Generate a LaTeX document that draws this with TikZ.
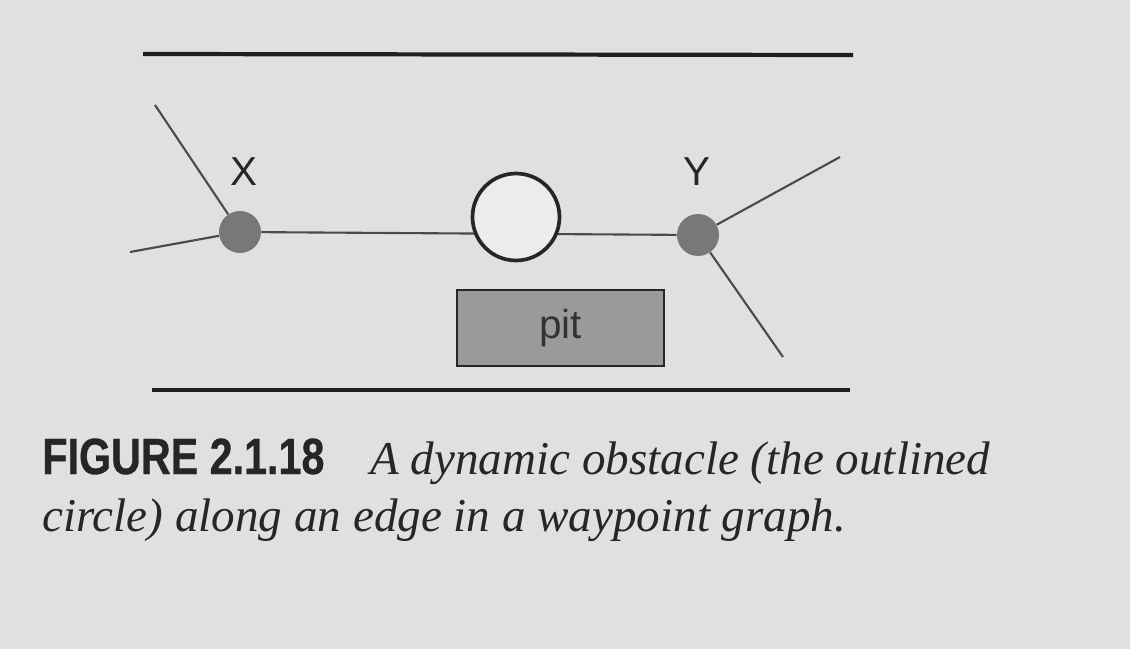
\documentclass[tikz,border=0pt]{standalone}
\usepackage{fontspec}
\setmainfont{Liberation Serif}
\setsansfont{Liberation Sans}
\newfontfamily\capfont[FakeStretch=0.81,FakeBold=0.6]{Liberation Sans}
\definecolor{paper}{HTML}{E0E0E0}
\definecolor{dotgray}{HTML}{787878}
\definecolor{pitgray}{HTML}{9A9A9A}
\definecolor{edgegray}{HTML}{4A4A4A}
\begin{document}
\begin{tikzpicture}[x=0.02cm,y=-0.02cm,
  wall/.style={line width=2.4pt,black!88},
  edge/.style={line width=1.2pt,edgegray},
  waypt/.style={circle,fill=dotgray,minimum size=0.84cm,inner sep=0pt},
  obstacle/.style={circle,draw=black!85,line width=2.1pt,fill=paper!60!white,minimum size=1.74cm,inner sep=0pt},
  pitbox/.style={draw=black!85,line width=1.3pt,fill=pitgray,minimum width=4.14cm,minimum height=1.52cm,inner sep=0pt,font=\sffamily\fontsize{23}{26}\selectfont,text=black!80},
  lbl/.style={font=\sffamily\fontsize{23}{26}\selectfont,text=black!85},
  capbold/.style={font=\capfont\bfseries\fontsize{29}{32}\selectfont,text=black!85,anchor=base west,inner sep=0pt},
  capit/.style={font=\itshape\fontsize{26.8}{32}\selectfont,text=black!85,anchor=base west,inner sep=0pt}]
\fill[paper] (0,0) rectangle (1130,649);
\useasboundingbox (0,0) rectangle (1130,649);
% walls
\coordinate (t1) at (143,54); \coordinate (t2) at (853,55);
\coordinate (b1) at (152,390); \coordinate (b2) at (850,390);
\draw[wall] (t1) -- (t2);
\draw[wall] (b1) -- (b2);
% waypoints
\node[waypt] (X) at (240,232) {};
\node[waypt] (Y) at (698,235) {};
\node[lbl] (xl) at (244,172) {X};
\node[lbl] (yl) at (697,172) {Y};
\coordinate (xa) at (155,105);
\coordinate (xb) at (130,252);
\coordinate (ya) at (840,157);
\coordinate (yb) at (783,357);
\draw[edge] (X) -- (xa);
\draw[edge] (X) -- (xb);
\draw[edge] (Y) -- (ya);
\draw[edge] (Y) -- (yb);
\draw[edge] (X) -- (Y);
% obstacle
\node[obstacle] (obs) at (516,217) {};
% pit
\node[pitbox] (pit) at (560.5,328) {pit};
% caption
\node[capbold] (fig) at (42,474) {FIGURE 2.1.18};
\node[capit] (c1) at (370,474) {A dynamic obstacle (the outlined};
\node[capit] (c2) at (42,531) {circle) along an edge in a waypoint graph.};
\end{tikzpicture}
\end{document}
